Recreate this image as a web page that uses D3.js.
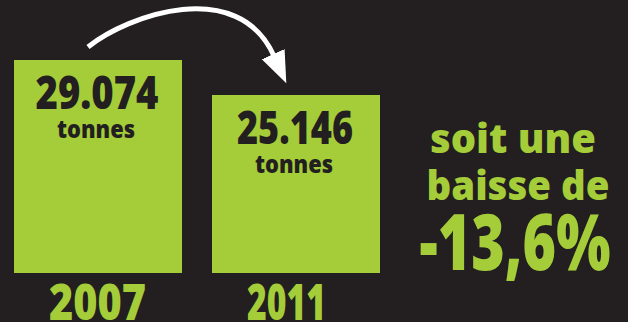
<!DOCTYPE html>
<html>
<head>
<meta charset="utf-8">
<script src="https://cdn.jsdelivr.net/npm/d3@7"></script>
<style>
  html, body { margin: 0; padding: 0; background: #231f20; }
  svg { display: block; }
</style>
</head>
<body>
<div id="chart"></div>
<script>
// ---- data ----
const years = ["2007", "2011"];
const values = [29074, 25146];
const unit = "tonnes";
const changeLines = ["soit une", "baisse de", "-13,6%"];

// ---- style / layout ----
const W = 628, H = 322;
const BG = "#231f20", GREEN = "#a5cd39", DARK = "#231f20";
const FONT = "'Open Sans', 'Noto Sans', 'DejaVu Sans', sans-serif";
const WEIGHT = 800;

const frLocale = d3.formatLocale({ decimal: ",", thousands: ".", grouping: [3], currency: ["", " €"] });
const fmt = frLocale.format(",");

const svg = d3.select("#chart").append("svg")
  .attr("width", W).attr("height", H)
  .style("background", BG);

const x = d3.scaleBand().domain(years).range([14, 380])
  .paddingInner(30 / 198).paddingOuter(0);
const y = d3.scaleLinear().domain([5170, 29074]).range([273, 60]);

const data = years.map((yr, i) => ({ year: yr, value: values[i] }));

// bars
svg.selectAll("rect.bar").data(data).join("rect")
  .attr("class", "bar")
  .attr("x", d => x(d.year))
  .attr("y", d => y(d.value))
  .attr("width", x.bandwidth())
  .attr("height", d => y.range()[0] - y(d.value))
  .attr("fill", GREEN);

// helper: condense text horizontally to a target width
function fit(sel, widthFn) {
  sel.each(function (d, i) {
    const w = widthFn(d, i);
    if (w) d3.select(this).attr("textLength", w).attr("lengthAdjust", "spacingAndGlyphs");
  });
}

// value labels
const valW = [123, 116];
svg.selectAll("text.val").data(data).join("text")
  .attr("class", "val")
  .attr("x", d => x(d.year) + x.bandwidth() / 2 - 1)
  .attr("y", d => y(d.value) + 49)
  .attr("text-anchor", "middle")
  .attr("font-family", FONT).attr("font-weight", WEIGHT)
  .attr("font-size", 46)
  .attr("fill", DARK)
  .text(d => fmt(d.value))
  .call(fit, (d, i) => valW[i]);

svg.selectAll("text.unit").data(data).join("text")
  .attr("class", "unit")
  .attr("x", d => x(d.year) + x.bandwidth() / 2 - 2)
  .attr("y", d => y(d.value) + 78)
  .attr("text-anchor", "middle")
  .attr("font-family", FONT).attr("font-weight", WEIGHT)
  .attr("font-size", 24)
  .attr("fill", DARK)
  .text(unit)
  .call(fit, () => 78);

// year labels
const yearW = [97, 79];
svg.selectAll("text.year").data(data).join("text")
  .attr("class", "year")
  .attr("x", d => x(d.year) + 35)
  .attr("y", 320)
  .attr("text-anchor", "start")
  .attr("font-family", FONT).attr("font-weight", WEIGHT)
  .attr("font-size", 49)
  .attr("fill", GREEN)
  .text(d => d.year)
  .call(fit, (d, i) => yearW[i]);

// change text
const chg = [
  { size: 41, base: 153, w: 166, cx: 513 },
  { size: 41, base: 200, w: 183, cx: 518 },
  { size: 78, base: 270, w: 191, cx: 515 }
];
svg.selectAll("text.chg").data(changeLines).join("text")
  .attr("class", "chg")
  .attr("x", (d, i) => chg[i].cx)
  .attr("y", (d, i) => chg[i].base)
  .attr("text-anchor", "middle")
  .attr("font-family", FONT).attr("font-weight", WEIGHT)
  .attr("font-size", (d, i) => chg[i].size)
  .attr("fill", GREEN)
  .text(d => d)
  .call(fit, (d, i) => chg[i].w);

// arrow
const defs = svg.append("defs");
defs.append("marker")
  .attr("id", "head")
  .attr("markerUnits", "userSpaceOnUse")
  .attr("viewBox", "0 -13 32 26")
  .attr("refX", 2).attr("refY", 0)
  .attr("markerWidth", 32).attr("markerHeight", 26)
  .attr("orient", "auto")
  .append("path")
  .attr("d", "M0,-12.5 L32,0 L0,12.5 Z")
  .attr("fill", "#fff");

const p = d3.path();
p.moveTo(88, 47);
p.bezierCurveTo(128, 15, 238, -24, 274, 56);
svg.append("path")
  .attr("d", p.toString())
  .attr("fill", "none")
  .attr("stroke", "#fff")
  .attr("stroke-width", 5)
  .attr("marker-end", "url(#head)");
</script>
</body>
</html>
